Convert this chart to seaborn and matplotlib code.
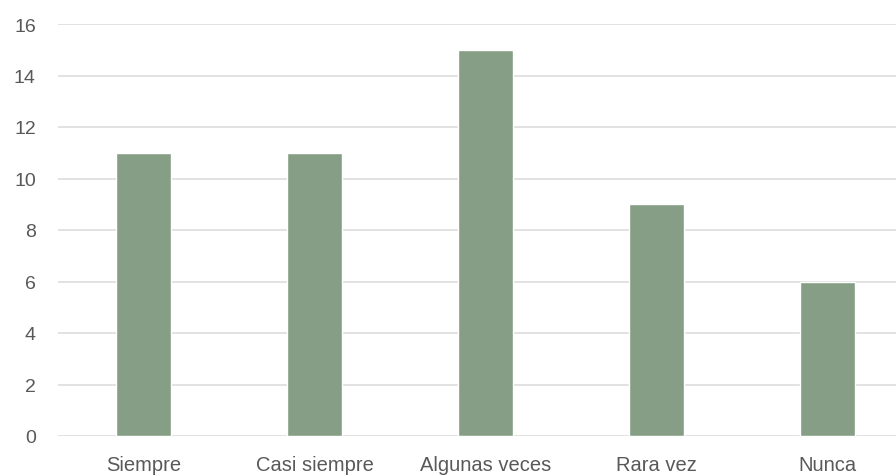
import matplotlib
matplotlib.use("Agg")
import matplotlib.pyplot as plt
import seaborn as sns
import pandas as pd

categories = ["Siempre", "Casi siempre", "Algunas veces", "Rara vez", "Nunca"]
values = [11, 11, 15, 9, 6]
y_ticks = [0, 2, 4, 6, 8, 10, 12, 14, 16]

df = pd.DataFrame({"categoria": categories, "frecuencia": values})

sns.set_theme(style="white")
plt.rcParams["font.family"] = ["Liberation Sans", "DejaVu Sans"]

fig = plt.figure(figsize=(8.96, 4.77), dpi=100)
ax = fig.add_axes([58 / 896, 1 - 437 / 477, 855 / 896, 412 / 477])

sns.barplot(data=df, x="categoria", y="frecuencia", color="#869E86",
            saturation=1, width=0.316, ax=ax, zorder=3)

ax.set_xlim(-0.5, 4.5)
ax.set_ylim(0, 16)
ax.set_yticks(y_ticks)
ax.yaxis.grid(True, color="#DDDDDD", linewidth=1.2, zorder=0)
ax.set_axisbelow(True)
for s in ax.spines.values():
    s.set_visible(False)
ax.set_xlabel("")
ax.set_ylabel("")
ax.tick_params(axis="y", length=0, pad=16, labelsize=14, labelcolor="#595959")
ax.tick_params(axis="x", length=0, pad=14, labelsize=14.5, labelcolor="#595959")

fig.savefig("out.png", dpi=100)
